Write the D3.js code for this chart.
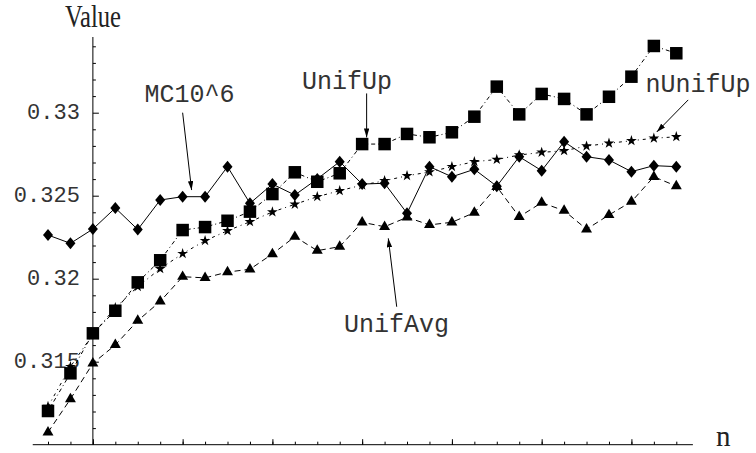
<html lang="en">
<head>
<meta charset="UTF-8">
<script src="https://d3js.org/d3.v7.min.js"></script>
<style>
  body { margin: 0; background: #fff; }
  svg { display: block; }
</style>
</head>
<body>
<div id="here"></div>
<script>
    // n values (29 points, y-axis crosses at n = 3)
    const nValues = [1, 2, 3, 4, 5, 6, 7, 8, 9, 10, 11, 12, 13, 14, 15, 16, 17, 18, 19, 20,
                     21, 22, 23, 24, 25, 26, 27, 28, 29];

    const mc = [0.32263, 0.32213, 0.32299, 0.32426, 0.32296, 0.32474, 0.32494, 0.32494, 0.32675, 0.32454,
                0.32570, 0.32504, 0.32601, 0.32705, 0.32570, 0.32575, 0.32394, 0.32675, 0.32614, 0.32659,
                0.32557, 0.32735, 0.32651, 0.32825, 0.32735, 0.32715, 0.32645, 0.32681, 0.32675];

    const unifUp = [0.31203, 0.31430, 0.31671, 0.31807, 0.31978, 0.32111, 0.32293, 0.32311, 0.32349, 0.32404,
                    0.32510, 0.32641, 0.32584, 0.32635, 0.32811, 0.32811, 0.32872, 0.32852, 0.32882, 0.32976,
                    0.33157, 0.32990, 0.33113, 0.33083, 0.32990, 0.33096, 0.33217, 0.33402, 0.33358];

    const nUnifUp = [0.31230, 0.31470, 0.31665, 0.31825, 0.31952, 0.32060, 0.32151, 0.32229, 0.32289, 0.32343,
                     0.32402, 0.32448, 0.32494, 0.32530, 0.32564, 0.32590, 0.32620, 0.32643, 0.32675, 0.32705,
                     0.32718, 0.32745, 0.32761, 0.32771, 0.32799, 0.32816, 0.32831, 0.32846, 0.32855];

    const unifAvg = [0.31075, 0.31275, 0.31490, 0.31601, 0.31747, 0.31863, 0.32012, 0.32005, 0.32040, 0.32057,
                     0.32149, 0.32253, 0.32169, 0.32193, 0.32340, 0.32313, 0.32370, 0.32324, 0.32340, 0.32398,
                     0.32554, 0.32373, 0.32458, 0.32410, 0.32298, 0.32384, 0.32464, 0.32614, 0.32558];

    const yTickVals = [0.315, 0.32, 0.325, 0.33];
    const yTickLabels = ["0.315", "0.32", "0.325", "0.33"];
    const yMinorVals = [0.311, 0.312, 0.313, 0.314, 0.316, 0.317, 0.318, 0.319, 0.321, 0.322, 0.323, 0.324,
                        0.326, 0.327, 0.328, 0.329, 0.331, 0.332, 0.333, 0.334];
    const xMajorVals = [3, 7, 11, 15, 19, 23, 27];

    const W = 756, H = 453;

    const x = d3.scaleLinear().domain([1, 29]).range([48, 676.3]);
    const y = d3.scaleLinear().domain([0.31, 0.33]).range([444.7, 112.7]);

    const svg = d3.select("#here").append("svg")
        .attr("width", W).attr("height", H)
        .style("font-family", "'Liberation Mono', 'Courier New', monospace");

    const defs = svg.append("defs");
    defs.append("marker")
        .attr("id", "arrow")
        .attr("viewBox", "0 0 10 6")
        .attr("refX", 10).attr("refY", 3)
        .attr("markerWidth", 9).attr("markerHeight", 5.4)
        .attr("markerUnits", "userSpaceOnUse")
        .attr("orient", "auto")
        .append("path")
        .attr("d", "M0,0 L10,3 L0,6 Z")
        .attr("fill", "#000");

    // ---- axes ----
    const xAxisY = y(0.31), yAxisX = x(3);

    const ax = svg.append("g").attr("stroke", "#000").attr("stroke-width", 1);
    ax.append("line")
        .attr("x1", x(0.32)).attr("x2", x(29.74))
        .attr("y1", xAxisY).attr("y2", xAxisY);
    ax.append("line")
        .attr("x1", yAxisX).attr("x2", yAxisX)
        .attr("y1", y(0.31)).attr("y2", y(0.33456));

    function cleanAxis(g) {
        g.select(".domain").remove();
        g.selectAll(".tick line").attr("stroke", "#000");
    }

    svg.append("g").attr("transform", `translate(0,${xAxisY})`)
        .call(d3.axisTop(x).tickValues(nValues).tickSize(3).tickFormat(""))
        .call(cleanAxis);
    svg.append("g").attr("transform", `translate(0,${xAxisY})`)
        .call(d3.axisTop(x).tickValues(xMajorVals).tickSize(5.5).tickFormat(""))
        .call(cleanAxis);

    svg.append("g").attr("transform", `translate(${yAxisX},0)`)
        .call(d3.axisRight(y).tickValues(yMinorVals).tickSize(3).tickFormat(""))
        .call(cleanAxis);
    svg.append("g").attr("transform", `translate(${yAxisX},0)`)
        .call(d3.axisRight(y).tickValues(yTickVals).tickSize(6).tickFormat(""))
        .call(cleanAxis);

    const yLab = svg.append("g").attr("transform", `translate(${yAxisX},0)`)
        .call(d3.axisLeft(y).tickValues(yTickVals).tickSize(0).tickPadding(13)
            .tickFormat((d, i) => yTickLabels[i]))
        .call(cleanAxis);
    yLab.selectAll("text")
        .attr("font-family", "'Liberation Mono', 'Courier New', monospace")
        .attr("font-size", 22)
        .attr("dy", "0.26em")
        .attr("fill", "#333");

    svg.append("text")
        .attr("x", 65).attr("y", 27)
        .attr("font-family", "'Liberation Serif', 'Times New Roman', serif")
        .attr("font-size", 31)
        .attr("textLength", 56).attr("lengthAdjust", "spacingAndGlyphs")
        .attr("fill", "#222")
        .text("Value");
    svg.append("text")
        .attr("x", 716).attr("y", 446)
        .attr("font-family", "'Liberation Serif', 'Times New Roman', serif")
        .attr("font-size", 29)
        .attr("fill", "#222")
        .text("n");

    // ---- series ----
    const series = [
        { name: "MC10^6", values: mc, dash: null },
        { name: "UnifUp", values: unifUp, dash: "4,3,1,3" },
        { name: "nUnifUp", values: nUnifUp, dash: "3,4,1,4" },
        { name: "UnifAvg", values: unifAvg, dash: "6,4" }
    ];

    const line = d3.line().x((d, i) => x(nValues[i])).y(d => y(d));

    svg.append("g").selectAll("path")
        .data(series).join("path")
        .attr("d", d => line(d.values))
        .attr("fill", "none")
        .attr("stroke", "#000")
        .attr("stroke-width", 1)
        .attr("stroke-dasharray", d => d.dash);

    const pts = vals => vals.map((v, i) => ({ n: nValues[i], v: v }));

    // stars
    svg.append("g").selectAll("path")
        .data(pts(nUnifUp)).join("path")
        .attr("transform", d => `translate(${x(d.n)},${y(d.v)})`)
        .attr("d", d3.symbol(d3.symbolStar, 36)())
        .attr("fill", "#000");

    // triangles
    svg.append("g").selectAll("path")
        .data(pts(unifAvg)).join("path")
        .attr("transform", d => `translate(${x(d.n)},${y(d.v)})`)
        .attr("d", d3.symbol(d3.symbolTriangle, 52)())
        .attr("fill", "#000");

    // diamonds
    svg.append("g").selectAll("path")
        .data(pts(mc)).join("path")
        .attr("transform", d => `translate(${x(d.n)},${y(d.v)})`)
        .attr("d", "M0,-6 L5,0 L0,6 L-5,0 Z")
        .attr("fill", "#000");

    // squares
    svg.append("g").selectAll("rect")
        .data(pts(unifUp)).join("rect")
        .attr("x", d => x(d.n) - 6.25)
        .attr("y", d => y(d.v) - 6.25)
        .attr("width", 12.5).attr("height", 12.5)
        .attr("fill", "#000");

    // ---- callouts (data coordinates) ----
    const callouts = [
        { text: "MC10^6", tn: 5.30, tv: 0.33067, n1: 7.00, v1: 0.33000, n2: 7.40, v2: 0.32534 },
        { text: "UnifUp", tn: 12.32, tv: 0.33143, n1: 15.20, v1: 0.33116, n2: 15.20, v2: 0.32851 },
        { text: "nUnifUp", tn: 27.63, tv: 0.33127, n1: 29.53, v1: 0.33077, n2: 28.13, v2: 0.32884 },
        { text: "UnifAvg", tn: 14.19, tv: 0.31681, n1: 16.54, v1: 0.31831, n2: 16.165, v2: 0.32243 }
    ];

    const cg = svg.append("g");
    cg.selectAll("line")
        .data(callouts).join("line")
        .attr("x1", d => x(d.n1)).attr("y1", d => y(d.v1))
        .attr("x2", d => x(d.n2)).attr("y2", d => y(d.v2))
        .attr("stroke", "#000").attr("stroke-width", 1)
        .attr("marker-end", "url(#arrow)");
    cg.selectAll("text")
        .data(callouts).join("text")
        .attr("x", d => x(d.tn)).attr("y", d => y(d.tv))
        .attr("font-size", 25)
        .attr("fill", "#333")
        .text(d => d.text);
</script>
</body>
</html>
